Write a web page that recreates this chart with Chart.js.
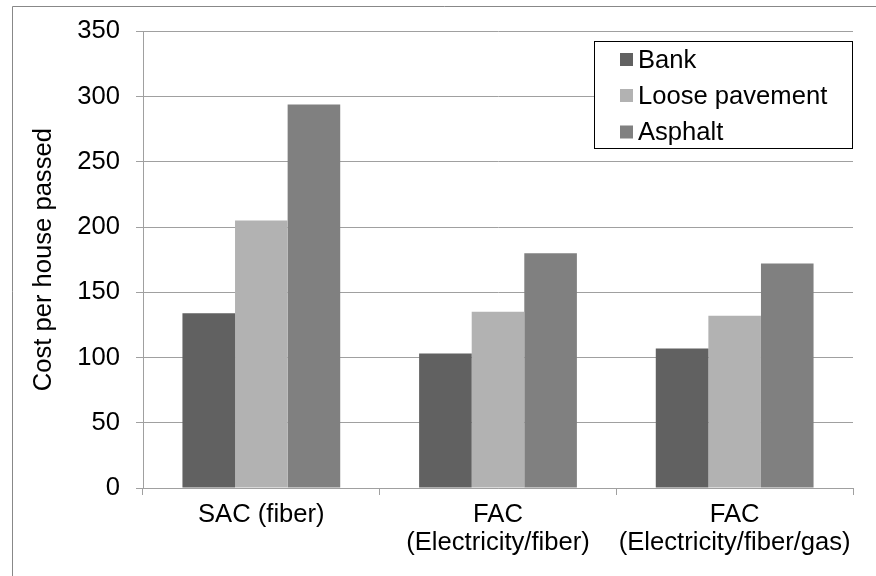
<!DOCTYPE html>
<html>
<head>
<meta charset="utf-8">
<script src="https://cdn.jsdelivr.net/npm/chart.js@4/dist/chart.umd.min.js"></script>
<style>
  html, body { margin: 0; padding: 0; background: #fff; }
  #wrap { width: 876px; height: 576px; }
</style>
</head>
<body>
<div id="wrap"><canvas id="c" width="876" height="576"></canvas></div>
<script>
// Categories (multi-line labels) and cost per house passed for each surface type
const categories = [
  ['SAC (fiber)'],
  ['FAC', '(Electricity/fiber)'],
  ['FAC', '(Electricity/fiber/gas)']
];
const seriesNames = ['Bank', 'Loose pavement', 'Asphalt'];
const bank = [134, 103, 107];
const loosePavement = [205, 135, 132];
const asphalt = [294, 180, 172];
const yTicks = [0, 50, 100, 150, 200, 250, 300, 350];

const colors = ['#616161', '#b2b2b2', '#808080'];
const FONT = "'Liberation Sans', Arial, sans-serif";
const FS = 25.6;
const GRID = '#a0a0a0';

// White background and the frame line along the top and left
const framePlugin = {
  id: 'frame',
  beforeDraw(chart) {
    const ctx = chart.ctx;
    ctx.save();
    ctx.fillStyle = '#ffffff';
    ctx.fillRect(0, 0, chart.width, chart.height);
    ctx.strokeStyle = '#888888';
    ctx.lineWidth = 1;
    ctx.beginPath();
    ctx.moveTo(12.5, chart.height + 2);
    ctx.lineTo(12.5, 6.5);
    ctx.lineTo(chart.width + 2, 6.5);
    ctx.stroke();
    ctx.restore();
  }
};

// Boxed legend inside the top-right of the plot
const boxLegend = {
  id: 'boxLegend',
  afterDatasetsDraw(chart) {
    const ctx = chart.ctx;
    const area = chart.chartArea;
    const right = area.right - 0.5;
    const left = 594.5, top = 41.5, bottom = 148.5;
    ctx.save();
    ctx.fillStyle = '#ffffff';
    ctx.fillRect(left, top, right - left, bottom - top);
    ctx.strokeStyle = '#000000';
    ctx.lineWidth = 1;
    ctx.strokeRect(left, top, right - left, bottom - top);
    const rowY = [59.5, 95.5, 132];
    ctx.font = FS + 'px ' + FONT;
    ctx.textBaseline = 'middle';
    ctx.textAlign = 'left';
    chart.data.datasets.forEach((ds, i) => {
      ctx.fillStyle = ds.backgroundColor;
      ctx.fillRect(620, rowY[i] - 6.5, 13, 13);
      ctx.fillStyle = '#000000';
      ctx.fillText(ds.label, 638, rowY[i] + 1);
    });
    ctx.restore();
  }
};

new Chart(document.getElementById('c'), {
  type: 'bar',
  data: {
    labels: categories,
    datasets: [
      { label: seriesNames[0], data: bank, backgroundColor: colors[0] },
      { label: seriesNames[1], data: loosePavement, backgroundColor: colors[1] },
      { label: seriesNames[2], data: asphalt, backgroundColor: colors[2] }
    ]
  },
  options: {
    responsive: false,
    animation: false,
    devicePixelRatio: 1,
    layout: { padding: { left: 0, top: 28, right: 23, bottom: 0 } },
    datasets: {
      bar: { categoryPercentage: 3 / 4.5, barPercentage: 1, borderWidth: 0 }
    },
    plugins: {
      legend: { display: false },
      tooltip: { enabled: false }
    },
    scales: {
      x: {
        offset: true,
        grid: { offset: true, drawOnChartArea: false, drawTicks: true, tickLength: 7, color: GRID },
        border: { color: GRID },
        ticks: {
          color: '#000000',
          font: { family: FONT, size: FS, lineHeight: 1.1 },
          padding: 6,
          maxRotation: 0,
          autoSkip: false
        },
        afterFit(scale) { scale.height = 88; }
      },
      y: {
        min: 0,
        max: 350,
        afterBuildTicks(scale) { scale.ticks = yTicks.map(v => ({ value: v })); },
        grid: { color: GRID, tickLength: 7 },
        border: { color: GRID },
        ticks: {
          color: '#000000',
          font: { family: FONT, size: FS },
          padding: 16
        },
        title: {
          display: true,
          text: 'Cost per house passed',
          color: '#000000',
          font: { family: FONT, size: FS, lineHeight: 1.2 },
          padding: { top: 29, bottom: 0 }
        },
        afterFit(scale) { scale.width = 143; }
      }
    }
  },
  plugins: [framePlugin, boxLegend]
});
</script>
</body>
</html>
